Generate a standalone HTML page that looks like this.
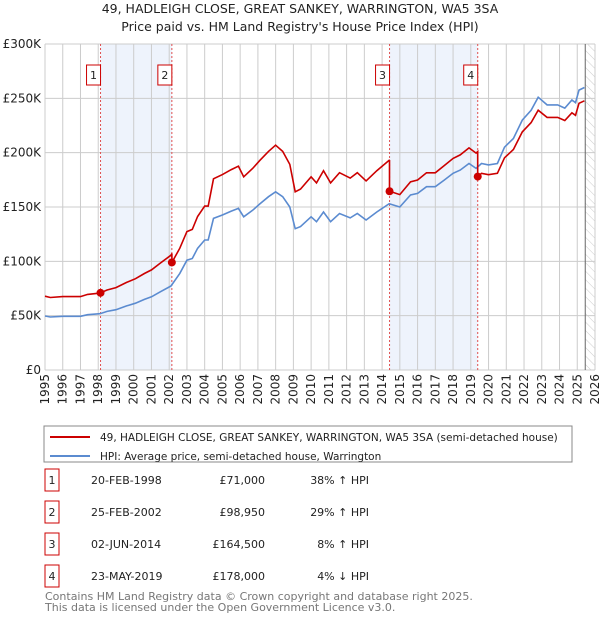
<!DOCTYPE html>
<html><head><meta charset="utf-8"><style>
body{margin:0;background:#fff;font-family:"DejaVu Sans","Liberation Sans",sans-serif;}
svg text{font-family:"DejaVu Sans","Liberation Sans",sans-serif;}
</style></head><body>
<svg id="c" width="600" height="620" xmlns="http://www.w3.org/2000/svg">
<defs><pattern id="hatch" width="6" height="6" patternUnits="userSpaceOnUse" patternTransform="rotate(-45)"><line x1="0" y1="0" x2="0" y2="6" stroke="#ccc" stroke-width="1"/></pattern></defs>
<text x="300" y="13" text-anchor="middle" font-size="12.5" fill="#222">49, HADLEIGH CLOSE, GREAT SANKEY, WARRINGTON, WA5 3SA</text>
<text x="300" y="31" text-anchor="middle" font-size="12.5" fill="#222">Price paid vs. HM Land Registry's House Price Index (HPI)</text>
<g id="plot"></g>
<rect x="44" y="426" width="528" height="36" fill="#fff" stroke="#888"/>
<line x1="50" y1="437" x2="90" y2="437" stroke="#cc0000" stroke-width="2"/>
<text x="100" y="441" font-size="10.5" fill="#222">49, HADLEIGH CLOSE, GREAT SANKEY, WARRINGTON, WA5 3SA (semi-detached house)</text>
<line x1="50" y1="456" x2="90" y2="456" stroke="#5b8bd0" stroke-width="2"/>
<text x="100" y="460" font-size="10.5" fill="#222">HPI: Average price, semi-detached house, Warrington</text>
<g id="table"></g>
<text x="45" y="600" font-size="11" fill="#777">Contains HM Land Registry data © Crown copyright and database right 2025.</text>
<text x="45" y="611" font-size="11" fill="#777">This data is licensed under the Open Government Licence v3.0.</text>
</svg>
<script>
const hpiYears=[1995.0,1995.3,1996.0,1997.0,1997.4,1998.1,1998.5,1999.0,1999.6,2000.1,2000.6,2001.0,2001.5,2002.1,2002.6,2003.0,2003.3,2003.6,2004.0,2004.2,2004.5,2005.0,2005.5,2005.9,2006.2,2006.7,2007.1,2007.6,2008.0,2008.4,2008.8,2009.1,2009.4,2010.0,2010.3,2010.7,2011.1,2011.6,2012.2,2012.6,2013.1,2013.7,2014.4,2015.0,2015.6,2016.0,2016.5,2017.0,2017.5,2018.0,2018.4,2018.9,2019.3,2019.6,2020.0,2020.5,2020.9,2021.4,2021.9,2022.4,2022.8,2023.3,2023.9,2024.3,2024.7,2024.9,2025.1,2025.4];
const hpiValues=[49.7,48.8,49.4,49.4,50.9,51.8,53.9,55.5,59,61.5,65,67.4,72,77.3,88.9,101,102.6,112,119.6,119.6,139.5,142.6,146.2,148.7,141,147,152.8,159.5,164,159.5,150,130,132,141,136.5,145.4,136.5,144,140,144,138,145.4,153,150,161,162.5,168.7,168.7,174.8,181,184,190,185.5,190,188.7,190,205,213,230,239,251,244,244,241,248.5,246,257.6,260];
const saleLabels=["1","2","3","4"];
const saleDates=[1998.13,2002.15,2014.42,2019.39];
const salePrices=[71000,98950,164500,178000];
const saleDateText=["20-FEB-1998","25-FEB-2002","02-JUN-2014","23-MAY-2019"];
const salePriceText=["£71,000","£98,950","£164,500","£178,000"];
const saleHpiText=["38% ↑ HPI","29% ↑ HPI","8% ↑ HPI","4% ↓ HPI"];
const yTicks=[0,50000,100000,150000,200000,250000,300000];
const yTickLabels=["£0","£50K","£100K","£150K","£200K","£250K","£300K"];

const NS="http://www.w3.org/2000/svg";
const X0=45,X1=595,Y0=370,Y1=44,T0=1995,T1=2026,VMAX=300000,FORECAST=2025.45;
const xs=t=>X0+(t-T0)/(T1-T0)*(X1-X0);
const ys=v=>Y0-v/VMAX*(Y0-Y1);
function mk(tag,attrs,parent){const e=document.createElementNS(NS,tag);for(const k in attrs)e.setAttribute(k,attrs[k]);parent.appendChild(e);return e;}
function hpiAt(t){if(t<=hpiYears[0])return hpiValues[0]*1000;for(let i=1;i<hpiYears.length;i++){if(t<=hpiYears[i]){const f=(t-hpiYears[i-1])/(hpiYears[i]-hpiYears[i-1]);return (hpiValues[i-1]+f*(hpiValues[i]-hpiValues[i-1]))*1000;}}return hpiValues[hpiValues.length-1]*1000;}
const g=document.getElementById('plot');
let e;
for(let k=0;k<4;k+=2){e=mk('rect',{x:xs(saleDates[k]),y:Y1,width:xs(saleDates[k+1])-xs(saleDates[k]),height:Y0-Y1,fill:'#eef3fc'},g);

}
e=mk('rect',{x:xs(FORECAST),y:Y1,width:X1-xs(FORECAST),height:Y0-Y1,fill:'url(#hatch)'},g);


for(let yr=T0;yr<=T1;yr++){e=mk('line',{x1:xs(yr),x2:xs(yr),y1:Y1,y2:Y0,stroke:'#ccc'},g);


e=mk('text',{x:0,y:0,transform:`translate(${xs(yr)+4},${Y0+4}) rotate(-90)`,'text-anchor':'end','font-size':'12',fill:'#222'},g);e.textContent=yr;

}
yTicks.forEach((v,i)=>{e=mk('line',{x1:X0,x2:X1,y1:ys(v),y2:ys(v),stroke:'#ccc'},g);


e=mk('text',{x:X0-4,y:ys(v)+4,'text-anchor':'end','font-size':'12',fill:'#222'},g);e.textContent=yTickLabels[i];

});
e=mk('line',{x1:xs(FORECAST),x2:xs(FORECAST),y1:Y1,y2:Y0,stroke:'#666'},g);


saleDates.forEach((d,i)=>{e=mk('line',{x1:xs(d),x2:xs(d),y1:Y1,y2:Y0,stroke:'#e05050','stroke-dasharray':'2,2'},g);

});
let pts=hpiYears.map((t,i)=>xs(t).toFixed(1)+','+ys(hpiValues[i]*1000).toFixed(1)).join(' ');
e=mk('polyline',{points:pts,fill:'none',stroke:'#5b8bd0','stroke-width':1.6},g);


let rp=[];
const times=[...new Set([...hpiYears,...saleDates])].sort((a,b)=>a-b);
times.forEach(t=>{let k=0;for(let j=0;j<saleDates.length;j++)if(t>=saleDates[j])k=j;
 if(saleDates.includes(t)&&saleDates.indexOf(t)>0){const pk=saleDates.indexOf(t)-1;rp.push([t,salePrices[pk]*hpiAt(t)/hpiAt(saleDates[pk])]);}
 rp.push([t,salePrices[k]*hpiAt(t)/hpiAt(saleDates[k])]);});
e=mk('polyline',{points:rp.map(p=>xs(p[0]).toFixed(1)+','+ys(p[1]).toFixed(1)).join(' '),fill:'none',stroke:'#cc0000','stroke-width':1.6},g);


saleDates.forEach((d,i)=>{e=mk('circle',{cx:xs(d),cy:ys(salePrices[i]),r:4,fill:'#cc0000'},g);


e=mk('rect',{x:xs(d)-14,y:65,width:14,height:20,fill:'#fff',stroke:'#cc0000'},g);


e=mk('text',{x:xs(d)-7,y:79,'text-anchor':'middle','font-size':'11',fill:'#222'},g);e.textContent=saleLabels[i];

});
const tb=document.getElementById('table');
saleLabels.forEach((l,i)=>{const y=482+i*32;
e=mk('rect',{x:45,y:y-13,width:14,height:22,fill:'#fff',stroke:'#cc0000'},tb);


e=mk('text',{x:52,y:y+2,'text-anchor':'middle','font-size':'11',fill:'#222'},tb);e.textContent=l;


e=mk('text',{x:91,y:y+2,'font-size':'11',fill:'#222'},tb);e.textContent=saleDateText[i];


e=mk('text',{x:265,y:y+2,'text-anchor':'end','font-size':'11',fill:'#222'},tb);e.textContent=salePriceText[i];


e=mk('text',{x:369,y:y+2,'text-anchor':'end','font-size':'11',fill:'#222'},tb);e.textContent=saleHpiText[i];

});
</script>
</body></html>
